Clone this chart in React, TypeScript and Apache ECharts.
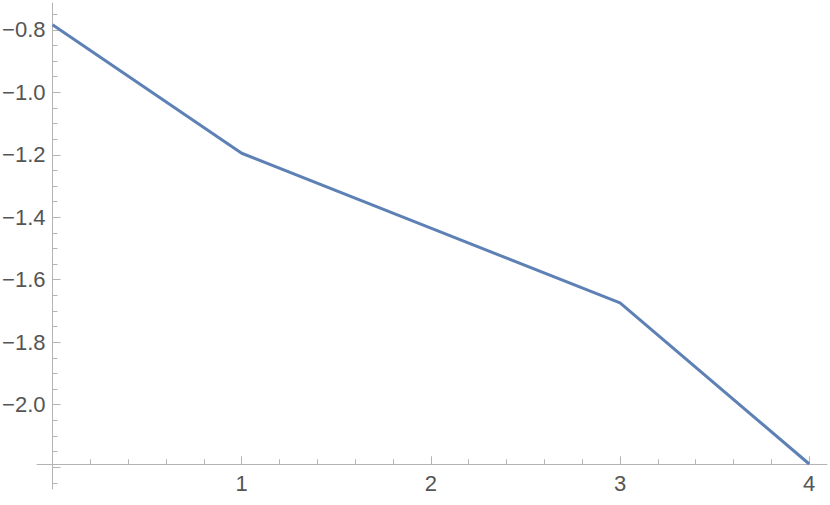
import React, { useEffect, useRef } from "react";
import * as echarts from "echarts";

const xValues = [0, 1, 2, 3, 4];
const yValues = [-0.784, -1.195, -1.435, -1.674, -2.19];

const xMajorTicks = [1, 2, 3, 4];
const xMinorTicks = [0.2, 0.4, 0.6, 0.8, 1.2, 1.4, 1.6, 1.8, 2.2, 2.4, 2.6, 2.8, 3.2, 3.4, 3.6, 3.8];
const yMajorTicks = [-2.2, -2.0, -1.8, -1.6, -1.4, -1.2, -1.0, -0.8];
const yLabels = [-2.0, -1.8, -1.6, -1.4, -1.2, -1.0, -0.8];
const yMinorTicks = [-2.25, -2.15, -2.1, -2.05, -1.95, -1.9, -1.85, -1.75, -1.7, -1.65, -1.55, -1.5, -1.45, -1.35, -1.3, -1.25, -1.15, -1.1, -1.05, -0.95, -0.9, -0.85, -0.75];

const X_MIN = -0.082;
const X_MAX = 4.094;
const Y_MIN = -2.27;
const Y_MAX = -0.714;

const axisColor = "#b4b4b4";
const labelColor = "#555555";
const fontFamily = "'Liberation Sans', Arial, sans-serif";

export default function App() {
  const ref = useRef<HTMLDivElement>(null);
  useEffect(() => {
    if (!ref.current) return;
    const chart = echarts.init(ref.current, null, { renderer: "svg" });
    const fmt = (v: number, d: number) => v.toFixed(d).replace("-", "\u2212");
    const xCommon = {
      type: "value",
      min: X_MIN,
      max: X_MAX,
      position: "bottom",
      offset: -24.7,
      splitLine: { show: false },
    };
    const yCommon = {
      type: "value",
      min: Y_MIN,
      max: Y_MAX,
      position: "left",
      splitLine: { show: false },
    };
    chart.setOption({
      animation: false,
      backgroundColor: "#ffffff",
      grid: { left: 37, right: 3, top: 3, bottom: 16, containLabel: false, outerBoundsMode: "none" },
      xAxis: [
        {
          ...xCommon,
          axisLine: { show: true, onZero: false, lineStyle: { color: axisColor, width: 1 } },
          axisTick: { show: true, inside: true, length: 8, customValues: xMajorTicks, lineStyle: { color: axisColor } },
          axisLabel: {
            show: true,
            customValues: xMajorTicks,
            formatter: (v: number) => fmt(v, 0),
            color: labelColor,
            fontSize: 22,
            fontFamily,
            margin: 8,
          },
        },
        {
          ...xCommon,
          axisLine: { show: false, onZero: false },
          axisTick: { show: true, inside: true, length: 5, customValues: xMinorTicks, lineStyle: { color: axisColor } },
          axisLabel: { show: false },
        },
      ],
      yAxis: [
        {
          ...yCommon,
          axisLine: { show: true, onZero: true, lineStyle: { color: axisColor, width: 1 } },
          axisTick: { show: true, inside: true, length: 8, customValues: yMajorTicks, lineStyle: { color: axisColor } },
          axisLabel: {
            show: true,
            customValues: yLabels,
            formatter: (v: number) => fmt(v, 1),
            color: labelColor,
            fontSize: 22,
            fontFamily,
            margin: -8.5,
          },
        },
        {
          ...yCommon,
          axisLine: { show: false, onZero: true },
          axisTick: { show: true, inside: true, length: 5, customValues: yMinorTicks, lineStyle: { color: axisColor } },
          axisLabel: { show: false },
        },
      ],
      series: [
        {
          type: "line",
          xAxisIndex: 0,
          yAxisIndex: 0,
          data: xValues.map((x, i) => [x, yValues[i]]),
          showSymbol: false,
          symbol: "none",
          lineStyle: { color: "#5e81b5", width: 3 },
          clip: false,
        },
      ],
    });
    return () => chart.dispose();
  }, []);
  return <div ref={ref} style={{ position: "absolute", left: 0, top: 0, width: 830, height: 505 }} />;
}
